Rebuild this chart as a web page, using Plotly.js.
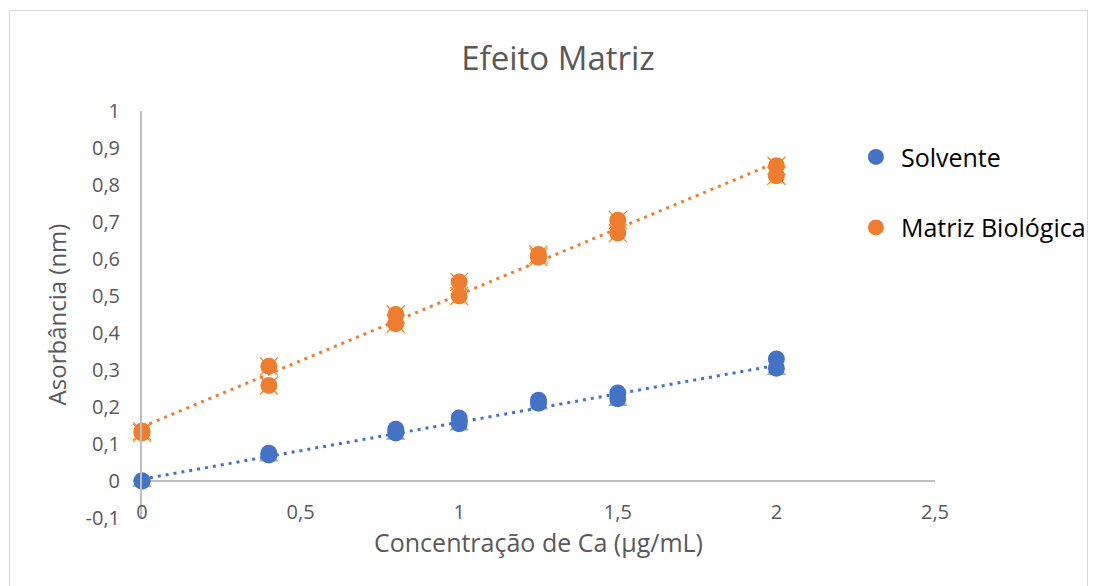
<!DOCTYPE html>
<html>
<head>
<meta charset="utf-8">
<script src="https://cdn.plot.ly/plotly-3.0.1.min.js"></script>
<style>
  html, body { margin: 0; padding: 0; background: #fff; overflow: hidden; }
  #chart { width: 1096px; height: 586px; position: relative; }
  #frame { position: absolute; left: 9px; top: 10px; width: 1077px; height: 700px;
           border: 1px solid #d9d9d9; pointer-events: none; }
</style>
</head>
<body>
<div id="chart"></div>
<div id="frame"></div>
<script>
// ---- data ----
const conc = [0, 0.4, 0.8, 1.0, 1.25, 1.5, 2.0];            // Concentração de Ca (µg/mL)
const solventeA = [0.000, 0.075, 0.140, 0.170, 0.218, 0.238, 0.330];
const solventeB = [0.000, 0.070, 0.130, 0.155, 0.210, 0.222, 0.305];
const solventeC = [-0.004, 0.064, 0.123, 0.148, 0.205, 0.214, 0.298];
const matrizA = [0.135, 0.310, 0.450, 0.538, 0.612, 0.705, 0.852];
const matrizB = [0.130, 0.258, 0.425, 0.500, 0.605, 0.670, 0.825];
const seriesNames = ["Solvente", "Matriz Biológica"];
const yTickVals = [-0.1, 0, 0.1, 0.2, 0.3, 0.4, 0.5, 0.6, 0.7, 0.8, 0.9, 1];
const yTickText = ["-0,1", "0", "0,1", "0,2", "0,3", "0,4", "0,5", "0,6", "0,7", "0,8", "0,9", "1"];
const xTickVals = [0, 0.5, 1, 1.5, 2, 2.5];
const xTickText = ["0", "0,5", "1", "1,5", "2", "2,5"];
const titleText = "Efeito Matriz";
const xTitle = "Concentração de Ca (µg/mL)";
const yTitle = "Asorbância (nm)";

// linear trendline (least squares) from the data points
function trend(xs, ys) {
  const n = xs.length;
  let sx = 0, sy = 0, sxx = 0, sxy = 0;
  for (let i = 0; i < n; i++) { sx += xs[i]; sy += ys[i]; sxx += xs[i]*xs[i]; sxy += xs[i]*ys[i]; }
  const m = (n*sxy - sx*sy) / (n*sxx - sx*sx);
  const b = (sy - m*sx) / n;
  const x0 = Math.min(...xs), x1 = Math.max(...xs);
  return { x: [x0, x1], y: [m*x0 + b, m*x1 + b] };
}
const solvAllX = conc.concat(conc, conc);
const solvAllY = solventeA.concat(solventeB, solventeC);
const matAllX = conc.concat(conc);
const matAllY = matrizA.concat(matrizB);
const tS = trend(solvAllX, solvAllY);
const tM = trend(matAllX, matAllY);

const BLUE = "#4472C4", ORANGE = "#ED7D31", GRAY = "#A5A5A5", YELLOW = "#FFC000";
const MS = 17;

const traces = [
  // background replicate markers
  { x: conc, y: solventeC, mode: "markers", type: "scatter", showlegend: false, hoverinfo: "skip",
    cliponaxis: false, marker: { symbol: "triangle-up", size: MS, color: GRAY } },
  { x: matAllX, y: matAllY, mode: "markers", type: "scatter", showlegend: false, hoverinfo: "skip",
    cliponaxis: false, marker: { symbol: "x-thin-open", size: MS + 1, line: { color: YELLOW, width: 1.2 } } },
  // trendlines
  { x: tS.x, y: tS.y, mode: "lines", type: "scatter", showlegend: false, hoverinfo: "skip",
    line: { color: BLUE, width: 3, dash: "3px,5px" } },
  { x: tM.x, y: tM.y, mode: "lines", type: "scatter", showlegend: false, hoverinfo: "skip",
    line: { color: ORANGE, width: 3, dash: "3px,5px" } },
  // main series
  { x: conc.concat(conc), y: solventeA.concat(solventeB), name: seriesNames[0], legendgroup: "s",
    mode: "markers", type: "scatter", cliponaxis: false, marker: { symbol: "circle", size: MS, color: BLUE } },
  { x: matAllX, y: matAllY, name: seriesNames[1], legendgroup: "m",
    mode: "markers", type: "scatter", cliponaxis: false, marker: { symbol: "circle", size: MS, color: ORANGE } }
];

const FONT = "'Open Sans', 'Noto Sans', sans-serif";
const TXT = "#595959";

const layout = {
  width: 1096, height: 586,
  margin: { l: 142, r: 161, t: 111, b: 68, autoexpand: false },
  paper_bgcolor: "#ffffff", plot_bgcolor: "#ffffff",
  separators: ",.",
  font: { family: FONT, color: TXT },
  title: { text: titleText, font: { family: FONT, size: 33, color: TXT },
           x: 558/1096, xref: "container", xanchor: "center",
           y: 1 - 58/586, yref: "container", yanchor: "middle" },
  showlegend: true,
  legend: { x: 0.894, xanchor: "left", y: 0.943, yanchor: "top", itemwidth: 40,
            font: { family: FONT, size: 25, color: "#000000" },
            traceorder: "grouped", tracegroupgap: 35, bgcolor: "rgba(0,0,0,0)" },
  xaxis: {
    range: [0, 2.5], tickmode: "array", tickvals: xTickVals, ticktext: xTickText,
    showgrid: false, zeroline: false, showline: false,
    anchor: "free", position: 0.05,
    ticks: "", tickfont: { family: FONT, size: 20, color: TXT },
    title: { text: xTitle, font: { family: FONT, size: 25, color: TXT }, standoff: 6 }
  },
  yaxis: {
    range: [-0.1, 1], tickmode: "array", tickvals: yTickVals, ticktext: yTickText,
    showgrid: false,
    showline: true, linecolor: "#bfbfbf", linewidth: 2,
    zeroline: true, zerolinecolor: "#bfbfbf", zerolinewidth: 2,
    ticks: "outside", ticklen: 16, tickcolor: "rgba(0,0,0,0)",
    tickfont: { family: FONT, size: 20, color: TXT },
    title: { text: yTitle, font: { family: FONT, size: 24, color: TXT }, standoff: 12 }
  }
};

Plotly.newPlot("chart", traces, layout, { displayModeBar: false, staticPlot: true });
</script>
</body>
</html>
